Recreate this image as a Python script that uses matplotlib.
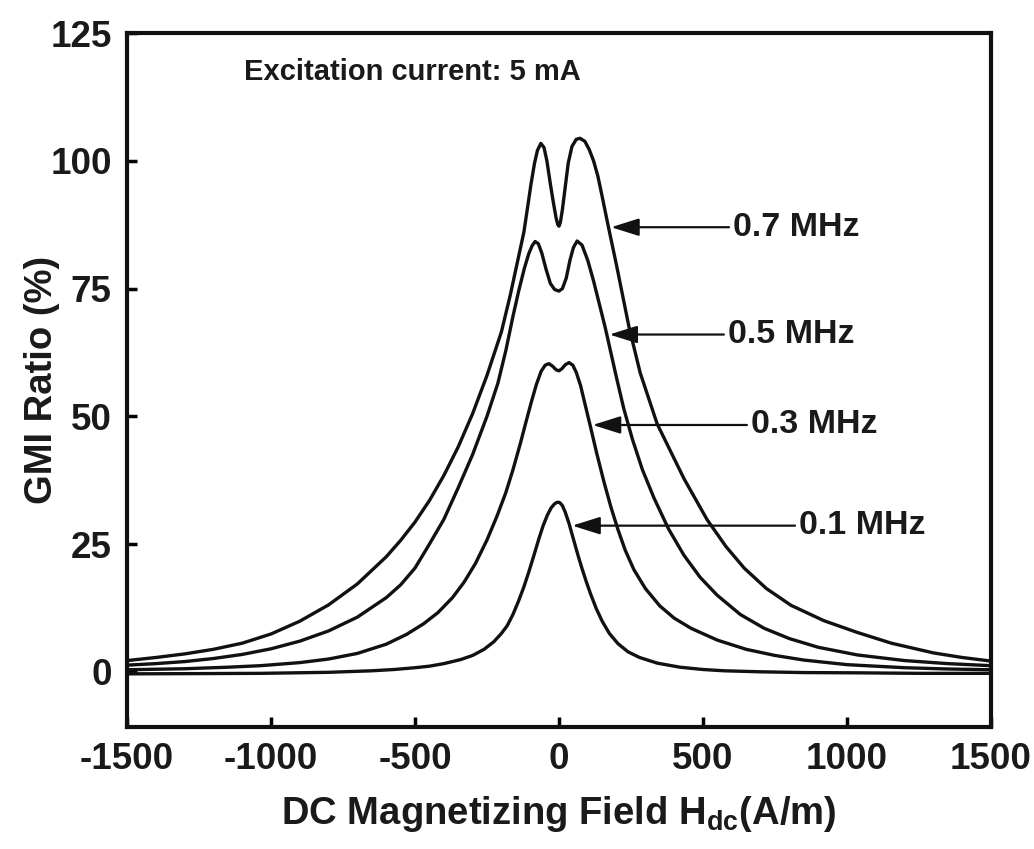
import matplotlib
matplotlib.use("Agg")
import matplotlib.pyplot as plt

plt.rcParams['font.family'] = ['Liberation Sans', 'DejaVu Sans']
plt.rcParams['font.weight'] = 'bold'
plt.rcParams['mathtext.fontset'] = 'custom'
plt.rcParams['mathtext.bf'] = 'Liberation Sans:bold'
plt.rcParams['mathtext.rm'] = 'Liberation Sans:bold'
plt.rcParams['axes.unicode_minus'] = False

# GMI ratio curves (field in A/m, ratio in %)
h_07 = [-1500, -1400, -1300, -1200, -1100, -1000, -900, -800, -700, -600, -550, -500, -450,
        -400, -350, -300, -250, -200, -170, -145, -122, -110, -97, -85, -75, -63, -52, -42,
        -30, -20, -10, -4, 0, 5, 12, 22, 32, 45, 60, 73, 90, 105, 120, 135, 150, 170, 200,
        243, 282, 341, 434, 514, 580, 643, 720, 806, 920, 1036, 1154, 1300, 1400, 1500]
gmi_07 = [2.2, 2.8, 3.5, 4.4, 5.6, 7.4, 9.9, 13.1, 17.2, 22.5, 25.7, 29.3, 33.5,
          38.4, 44.0, 50.5, 58.0, 66.5, 73.5, 80.0, 86.0, 90.5, 95.5, 99.5, 102.0, 103.4, 102.6,
          100.0, 95.5, 92.0, 88.8, 87.5, 87.2, 88.0, 90.5, 95.0, 99.5, 102.8, 104.2, 104.4, 103.8,
          102.2, 100.0, 97.0, 93.0, 87.5, 79.5, 67.5, 58.5, 48.5, 37.8, 29.8, 24.5, 20.3, 16.3,
          13.0, 10.0, 7.7, 5.6, 3.7, 2.8, 2.1]

h_05 = [-1500, -1400, -1300, -1200, -1100, -1000, -900, -800, -700, -600, -550, -500, -455,
        -400, -350, -300, -250, -212, -184, -160, -140, -120, -105, -93, -83, -72, -60, -45,
        -30, -15, 0, 12, 25, 38, 50, 63, 80, 100, 120, 140, 160, 180, 200, 225, 255, 290, 330,
        380, 434, 490, 549, 630, 713, 800, 900, 1036, 1200, 1350, 1500]
gmi_05 = [1.3, 1.6, 2.0, 2.6, 3.4, 4.5, 6.0, 8.0, 10.7, 14.5, 17.0, 20.3, 24.5,
          29.8, 36.0, 42.5, 50.0, 56.5, 63.0, 69.5, 74.5, 79.0, 81.8, 83.4, 84.2, 83.8, 82.0, 78.8,
          76.0, 74.8, 74.5, 75.0, 77.0, 80.5, 83.0, 84.3, 83.5, 80.5, 76.5, 72.0, 67.5, 62.5, 57.5,
          51.5, 45.5, 39.5, 34.0, 28.0, 22.8, 18.5, 15.0, 11.2, 8.5, 6.5, 4.8, 3.3, 2.2, 1.6, 1.2]

h_03 = [-1500, -1300, -1150, -1036, -900, -800, -700, -600, -530, -470, -420, -370, -330,
        -290, -250, -215, -185, -160, -135, -115, -95, -78, -62, -48, -35, -22, -10, 0, 10, 22,
        35, 48, 60, 75, 92, 110, 130, 156, 180, 205, 230, 260, 300, 350, 400, 459, 550, 650,
        750, 850, 1000, 1200, 1350, 1500]
gmi_03 = [0.4, 0.6, 0.9, 1.2, 1.8, 2.5, 3.6, 5.4, 7.3, 9.4, 11.6, 14.5, 17.5,
          21.2, 25.8, 30.5, 35.0, 39.5, 44.5, 48.8, 53.0, 56.3, 58.8, 60.0, 60.3, 59.8, 59.1, 58.9,
          59.3, 60.1, 60.5, 60.0, 58.6, 56.0, 52.0, 47.8, 43.0, 37.2, 32.3, 27.8, 23.8, 20.0, 16.3,
          12.9, 10.5, 8.5, 6.2, 4.4, 3.2, 2.3, 1.4, 0.8, 0.55, 0.4]

h_01 = [-1500, -1250, -1036, -800, -650, -573, -500, -450, -400, -341, -300, -260, -226, -200,
        -180, -160, -140, -122, -105, -87, -70, -55, -40, -27, -15, -5, 3, 12, 22, 35, 50, 65,
        80, 95, 110, 130, 150, 175, 205, 240, 280, 341, 420, 500, 573, 700, 850, 1036, 1250, 1500]
gmi_01 = [-0.4, -0.35, -0.3, -0.1, 0.2, 0.45, 0.8, 1.1, 1.6, 2.4, 3.2, 4.4, 5.9, 7.5,
          9.0, 11.2, 13.9, 16.6, 19.5, 22.8, 26.0, 28.6, 30.7, 32.1, 32.9, 33.2, 33.1, 32.5, 31.2,
          29.0, 26.0, 23.0, 20.2, 17.6, 15.2, 12.3, 9.9, 7.5, 5.5, 3.9, 2.8, 1.7, 0.9, 0.45, 0.2,
          0.0, -0.15, -0.2, -0.3, -0.3]

labels = ['0.7 MHz', '0.5 MHz', '0.3 MHz', '0.1 MHz']
arrow_tip = [(181, 87), (175, 66), (117, 48.3), (46, 28.6)]
label_x = [605, 587, 667, 834]

fig = plt.figure(figsize=(10.34, 8.49), dpi=100)
ax = fig.add_axes([0.1228, 0.1437, 0.8356, 0.8174])

for h, g in [(h_07, gmi_07), (h_05, gmi_05), (h_03, gmi_03), (h_01, gmi_01)]:
    ax.plot(h, g, color='#111111', linewidth=2.4, solid_joinstyle='round')

for lab, (xt, yt), xl in zip(labels, arrow_tip, label_x):
    ax.annotate(lab, xy=(xt, yt), xytext=(xl, yt), ha='left', va='center',
                fontsize=24.5, fontweight='bold', color='#1a1a1a',
                arrowprops=dict(arrowstyle='-|>,head_length=0.7,head_width=0.22',
                                color='#111111', lw=1.6, shrinkA=1, shrinkB=0))

ax.text(-1095, 117.4, 'Excitation current: 5 mA', fontsize=21, fontweight='bold',
        color='#1a1a1a', va='center', ha='left')

ax.set_xlim(-1500, 1500)
ax.set_ylim(-10.8, 125)
ax.set_xticks([-1500, -1000, -500, 0, 500, 1000, 1500])
ax.set_yticks([0, 25, 50, 75, 100, 125])
ax.tick_params(direction='in', length=7, width=2.5, labelsize=26.5, pad=11,
               top=False, right=False)
for lab in ax.get_xticklabels() + ax.get_yticklabels():
    lab.set_fontweight('bold')
    lab.set_color('#1a1a1a')
for s in ax.spines.values():
    s.set_linewidth(3)
    s.set_color('#111111')

ax.set_xlabel(r'DC Magnetizing Field H$_{\mathbf{dc}}$(A/m)', fontsize=27.5,
              fontweight='bold', labelpad=12, color='#1a1a1a')
ax.set_ylabel('GMI Ratio (%)', fontsize=27.5, fontweight='bold', color='#1a1a1a')
ax.yaxis.set_label_coords(-0.078, 0.5)

fig.savefig('out.png', dpi=100)
